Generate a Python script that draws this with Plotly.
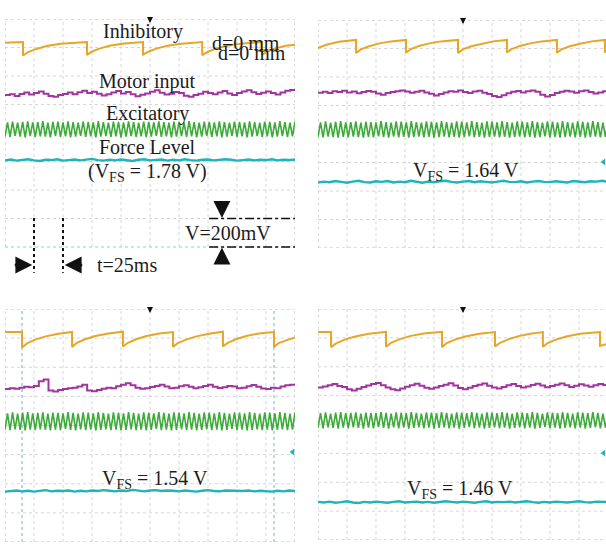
import plotly.graph_objects as go

# ---------------- data (time in ms, amplitude in scope divisions) ----------------
panel_labels = ["d=0 mm", "d=1 mm", "d=2 mm", "d=3 mm"]
vfs_labels = ["(V<sub>FS</sub> = 1.78 V)", "V<sub>FS</sub> = 1.64 V", "V<sub>FS</sub> = 1.54 V", "V<sub>FS</sub> = 1.46 V"]
trace_names = ["Inhibitory", "Motor input", "Excitatory", "Force Level"]

# Inhibitory (orange) sawtooth break-points
inh_t_d0 = [0, 15.5, 15.5, 20, 27, 36, 48, 60, 70.7, 70.7, 75, 82, 91, 103, 114, 119, 119, 124, 131, 140, 152, 163,
            170, 170, 175, 182, 191, 203, 214, 221.6, 221.6, 226, 233, 242, 250]
inh_v_d0 = [7.17, 7.19, 6.72, 6.84, 6.95, 7.05, 7.13, 7.17, 7.19, 6.74, 6.86, 6.97, 7.07, 7.14, 7.18, 7.19, 6.75, 6.86,
            6.97, 7.06, 7.13, 7.17, 7.19, 6.73, 6.85, 6.96, 7.06, 7.13, 7.17, 7.19, 6.74, 6.86, 6.97, 7.06, 7.10]
inh_t_d1 = [0, 8, 18, 32.8, 32.8, 37, 44, 53, 63, 75.9, 75.9, 80, 87, 96, 106, 120.7, 120.7, 125, 132, 141, 151, 162.9,
            162.9, 167, 174, 183, 193, 206, 206, 210, 217, 226, 236, 247.4, 247.4, 248.3]
inh_v_d1 = [7.02, 7.14, 7.24, 7.30, 6.84, 6.97, 7.08, 7.18, 7.25, 7.30, 6.85, 6.98, 7.09, 7.18, 7.25, 7.30, 6.84, 6.97,
            7.08, 7.17, 7.25, 7.30, 6.86, 6.98, 7.09, 7.18, 7.25, 7.30, 6.85, 6.97, 7.08, 7.17, 7.25, 7.30, 6.88, 6.90]
inh_t_d2 = [0, 14.7, 14.7, 19, 26, 35, 46, 57.8, 57.8, 62, 69, 78, 89, 101.7, 101.7, 106, 113, 122, 133, 144.8, 144.8,
            149, 156, 165, 176, 187.9, 187.9, 192, 199, 208, 219, 231.9, 231.9, 236, 243, 250]
inh_v_d2 = [7.21, 7.21, 6.68, 6.82, 6.95, 7.06, 7.15, 7.21, 6.70, 6.84, 6.96, 7.07, 7.16, 7.22, 6.71, 6.84, 6.96, 7.07,
            7.16, 7.21, 6.70, 6.83, 6.95, 7.06, 7.15, 7.22, 6.71, 6.84, 6.96, 7.07, 7.16, 7.21, 6.70, 6.83, 6.93, 7.02]
inh_t_d3 = [0, 11.2, 11.2, 16, 23, 32, 44, 58.6, 58.6, 63, 70, 79, 91, 106.9, 106.9, 111, 118, 127, 139, 152.6, 152.6,
            157, 164, 173, 183, 193.9, 193.9, 198, 205, 214, 226, 243.1, 243.1, 248.3]
inh_v_d3 = [7.20, 7.20, 6.68, 6.82, 6.94, 7.05, 7.14, 7.21, 6.69, 6.83, 6.95, 7.06, 7.15, 7.21, 6.68, 6.82, 6.94, 7.05,
            7.14, 7.20, 6.70, 6.83, 6.95, 7.06, 7.14, 7.20, 6.69, 6.82, 6.94, 7.05, 7.14, 7.20, 6.72, 6.78]

# Motor input (purple), evenly sampled across the 250 ms screen
motor_d0 = [5.33, 5.36, 5.30, 5.37, 5.42, 5.35, 5.40, 5.46, 5.38, 5.30, 5.27, 5.33, 5.37, 5.42, 5.36, 5.43, 5.48, 5.40,
            5.45, 5.38, 5.32, 5.36, 5.42, 5.47, 5.39, 5.44, 5.36, 5.29, 5.34, 5.39, 5.45, 5.50, 5.41, 5.35, 5.38, 5.44,
            5.40, 5.31, 5.27, 5.33, 5.38, 5.45, 5.40, 5.36, 5.42, 5.47, 5.39, 5.33, 5.40, 5.46, 5.50, 5.43, 5.37, 5.41,
            5.46, 5.40, 5.35, 5.42, 5.48, 5.51, 5.49]
motor_d1 = [5.45, 5.48, 5.44, 5.50, 5.47, 5.52, 5.46, 5.49, 5.43, 5.47, 5.51, 5.48, 5.42, 5.38, 5.44, 5.47, 5.50, 5.53,
            5.49, 5.45, 5.48, 5.52, 5.46, 5.41, 5.35, 5.40, 5.46, 5.50, 5.48, 5.53, 5.47, 5.44, 5.49, 5.52, 5.45, 5.40,
            5.33, 5.30, 5.36, 5.43, 5.48, 5.51, 5.46, 5.50, 5.53, 5.48, 5.38, 5.32, 5.37, 5.44, 5.48, 5.52, 5.49, 5.45,
            5.50, 5.53, 5.47, 5.42, 5.46, 5.50, 5.48]
motor_d2 = [5.25, 5.28, 5.26, 5.30, 5.33, 5.31, 5.36, 5.52, 5.58, 5.20, 5.17, 5.22, 5.25, 5.28, 5.30, 5.34, 5.40, 5.20,
            5.18, 5.22, 5.26, 5.30, 5.28, 5.35, 5.40, 5.45, 5.38, 5.30, 5.26, 5.28, 5.32, 5.36, 5.40, 5.34, 5.28, 5.30,
            5.35, 5.38, 5.33, 5.28, 5.31, 5.36, 5.40, 5.33, 5.29, 5.31, 5.36, 5.34, 5.28, 5.30, 5.35, 5.39, 5.33, 5.27,
            5.25, 5.30, 5.28, 5.34, 5.38, 5.40, 5.42]
motor_d3 = [5.28, 5.32, 5.36, 5.40, 5.33, 5.30, 5.22, 5.18, 5.24, 5.30, 5.35, 5.40, 5.44, 5.36, 5.28, 5.22, 5.19, 5.25,
            5.31, 5.36, 5.41, 5.34, 5.27, 5.24, 5.28, 5.33, 5.38, 5.43, 5.35, 5.26, 5.22, 5.27, 5.33, 5.38, 5.42, 5.34,
            5.28, 5.25, 5.30, 5.36, 5.40, 5.33, 5.28, 5.32, 5.37, 5.41, 5.35, 5.29, 5.33, 5.38, 5.42, 5.36, 5.30, 5.34,
            5.39, 5.35, 5.31, 5.36, 5.40, 5.37, 5.33]

# Excitatory (green) zig-zag: alternating trough / peak samples
exc_d0 = [3.88, 4.37, 3.86, 4.40, 3.90, 4.36, 3.87, 4.39, 3.85, 4.41, 3.89, 4.37, 3.86, 4.38, 3.88, 4.42, 3.87, 4.36, 3.85, 4.39,
          3.89, 4.40, 3.86, 4.37, 3.88, 4.41, 3.85, 4.38, 3.87, 4.36, 3.90, 4.40, 3.86, 4.39, 3.88, 4.37, 3.85, 4.42, 3.87, 4.38,
          3.89, 4.36, 3.86, 4.40, 3.88, 4.39, 3.85, 4.37, 3.87, 4.41, 3.89, 4.38, 3.86, 4.36, 3.88, 4.40, 3.85, 4.39, 3.87, 4.37,
          3.90, 4.41, 3.86, 4.38, 3.88, 4.36, 3.85, 4.40, 3.87, 4.39, 3.89, 4.37, 3.86, 4.42, 3.88, 4.38, 3.85, 4.36, 3.87, 4.40,
          3.89, 4.39, 3.86, 4.37, 3.88, 4.41, 3.85, 4.38, 3.87, 4.36, 3.90, 4.40, 3.86, 4.39, 3.88, 4.37, 3.85, 4.41, 3.87, 4.38,
          3.89, 4.36, 3.86, 4.40, 3.88, 4.39, 3.85, 4.37, 3.87, 4.42, 3.89, 4.38, 3.86, 4.36, 3.88, 4.40]
exc_d1 = [3.90, 4.41, 3.88, 4.44, 3.91, 4.40, 3.89, 4.43, 3.87, 4.45, 3.90, 4.41, 3.88, 4.42, 3.91, 4.44, 3.89, 4.40, 3.87, 4.43,
          3.90, 4.42, 3.88, 4.41, 3.92, 4.45, 3.89, 4.42, 3.87, 4.40, 3.91, 4.44, 3.88, 4.43, 3.90, 4.41, 3.87, 4.45, 3.89, 4.42,
          3.91, 4.40, 3.88, 4.44, 3.90, 4.43, 3.87, 4.41, 3.89, 4.45, 3.91, 4.42, 3.88, 4.40, 3.90, 4.44, 3.87, 4.43, 3.89, 4.41,
          3.92, 4.45, 3.88, 4.42, 3.90, 4.40, 3.87, 4.44, 3.89, 4.43, 3.91, 4.41, 3.88, 4.45, 3.90, 4.42, 3.87, 4.40, 3.89, 4.44,
          3.91, 4.43, 3.88, 4.41, 3.90, 4.45, 3.87, 4.42, 3.89, 4.40, 3.92, 4.44, 3.88, 4.43, 3.90, 4.41, 3.87, 4.45, 3.89, 4.42,
          3.91, 4.40, 3.88, 4.44, 3.90, 4.43, 3.87, 4.41, 3.89, 4.45, 3.91, 4.42, 3.88, 4.40, 3.90, 4.44]
exc_d2 = [3.86, 4.42, 3.84, 4.45, 3.87, 4.41, 3.85, 4.44, 3.83, 4.46, 3.86, 4.42, 3.84, 4.43, 3.87, 4.45, 3.85, 4.41, 3.83, 4.44,
          3.86, 4.43, 3.84, 4.42, 3.88, 4.46, 3.85, 4.43, 3.83, 4.41, 3.87, 4.45, 3.84, 4.44, 3.86, 4.42, 3.83, 4.46, 3.85, 4.43,
          3.87, 4.41, 3.84, 4.45, 3.86, 4.44, 3.83, 4.42, 3.85, 4.46, 3.87, 4.43, 3.84, 4.41, 3.86, 4.45, 3.83, 4.44, 3.85, 4.42,
          3.88, 4.46, 3.84, 4.43, 3.86, 4.41, 3.83, 4.45, 3.85, 4.44, 3.87, 4.42, 3.84, 4.46, 3.86, 4.43, 3.83, 4.41, 3.85, 4.45,
          3.87, 4.44, 3.84, 4.42, 3.86, 4.46, 3.83, 4.43, 3.85, 4.41, 3.88, 4.45, 3.84, 4.44, 3.86, 4.42, 3.83, 4.46, 3.85, 4.43,
          3.87, 4.41, 3.84, 4.45, 3.86, 4.44, 3.83, 4.42, 3.85, 4.46, 3.87, 4.43, 3.84, 4.41, 3.86, 4.45]
exc_d3 = [3.89, 4.39, 3.87, 4.42, 3.90, 4.38, 3.88, 4.41, 3.86, 4.43, 3.89, 4.39, 3.87, 4.40, 3.90, 4.42, 3.88, 4.38, 3.86, 4.41,
          3.89, 4.40, 3.87, 4.39, 3.91, 4.43, 3.88, 4.40, 3.86, 4.38, 3.90, 4.42, 3.87, 4.41, 3.89, 4.39, 3.86, 4.43, 3.88, 4.40,
          3.90, 4.38, 3.87, 4.42, 3.89, 4.41, 3.86, 4.39, 3.88, 4.43, 3.90, 4.40, 3.87, 4.38, 3.89, 4.42, 3.86, 4.41, 3.88, 4.39,
          3.91, 4.43, 3.87, 4.40, 3.89, 4.38, 3.86, 4.42, 3.88, 4.41, 3.90, 4.39, 3.87, 4.43, 3.89, 4.40, 3.86, 4.38, 3.88, 4.42,
          3.90, 4.41, 3.87, 4.39, 3.89, 4.43, 3.86, 4.40, 3.88, 4.38, 3.91, 4.42, 3.87, 4.41, 3.89, 4.39, 3.86, 4.43, 3.88, 4.40,
          3.90, 4.38, 3.87, 4.42, 3.89, 4.41, 3.86, 4.39, 3.88, 4.43, 3.90, 4.40, 3.87, 4.38, 3.89, 4.42]

# Force level (cyan)
force_d0 = [3.04, 3.07, 3.03, 3.06, 3.08, 3.04, 3.02, 3.06, 3.05, 3.08, 3.03, 3.05, 3.07, 3.04, 3.06, 3.09, 3.05, 3.03,
            3.06, 3.04, 3.07, 3.05, 3.02, 3.06, 3.08, 3.04, 3.05, 3.07, 3.03, 3.06, 3.04, 3.08, 3.05, 3.03, 3.06, 3.07,
            3.04, 3.05, 3.08, 3.06, 3.03, 3.05, 3.07, 3.04, 3.06, 3.05, 3.08, 3.04, 3.06, 3.05, 3.07]
force_d1 = [2.30, 2.33, 2.31, 2.35, 2.32, 2.29, 2.33, 2.36, 2.31, 2.30, 2.34, 2.32, 2.35, 2.30, 2.33, 2.31, 2.36, 2.32,
            2.29, 2.33, 2.31, 2.34, 2.36, 2.32, 2.30, 2.33, 2.35, 2.31, 2.34, 2.32, 2.30, 2.33, 2.36, 2.32, 2.31, 2.34,
            2.30, 2.33, 2.35, 2.32, 2.31, 2.34, 2.33, 2.30, 2.35, 2.32, 2.31, 2.34, 2.33, 2.36, 2.32]
force_d2 = [1.73, 1.75, 1.77, 1.74, 1.76, 1.73, 1.75, 1.78, 1.74, 1.76, 1.75, 1.77, 1.73, 1.76, 1.74, 1.77, 1.75, 1.78,
            1.76, 1.74, 1.77, 1.75, 1.79, 1.76, 1.74, 1.77, 1.78, 1.75, 1.77, 1.76, 1.74, 1.77, 1.75, 1.73, 1.76, 1.78,
            1.75, 1.74, 1.77, 1.76, 1.74, 1.75, 1.77, 1.74, 1.76, 1.75, 1.73, 1.76, 1.74, 1.77, 1.75]
force_d3 = [1.32, 1.30, 1.33, 1.29, 1.31, 1.34, 1.30, 1.28, 1.32, 1.30, 1.33, 1.31, 1.29, 1.32, 1.34, 1.30, 1.31, 1.33,
            1.30, 1.32, 1.29, 1.31, 1.34, 1.32, 1.30, 1.33, 1.31, 1.29, 1.32, 1.34, 1.30, 1.32, 1.31, 1.33, 1.30, 1.32,
            1.34, 1.31, 1.29, 1.32, 1.30, 1.33, 1.31, 1.30, 1.32, 1.34, 1.31, 1.30, 1.33, 1.32, 1.31]

# channel offset markers (level in div)
marker_level = [None, 3.02, 3.09, 3.01]
# cursor lines on the d=2 mm screen (ms)
cursor_d2 = [14.7, 231.9]

SCREEN_MS = 250
DIV_MS = 25

# ---------------- layout helpers ----------------
W, H = 606, 545
ORANGE = "#E8A526"
PURPLE = "#A1359F"
GREEN = "#3DAA3A"
CYAN = "#1FB3BC"
TXT = "#1c1c1c"
FONT = "Liberation Serif, Times New Roman, serif"


def dom_x(a, b):
    return [a / W, min(b / W, 1.0)]


def dom_y(top, bottom):
    return [max(1 - bottom / H, 0.0), 1 - top / H]


panels = [
    dict(xd=dom_x(5, 295), yd=dom_y(19, 280), xr=[0, 250], yr=[-1.158, 8]),
    dict(xd=dom_x(318, 606), yd=dom_y(20, 248), xr=[0, 248.3], yr=[0, 8]),
    dict(xd=dom_x(5, 295), yd=dom_y(309, 542), xr=[0, 250], yr=[0, 8]),
    dict(xd=dom_x(318, 606), yd=dom_y(309, 540), xr=[0, 248.3], yr=[0, 8]),
]

inh_t = [inh_t_d0, inh_t_d1, inh_t_d2, inh_t_d3]
inh_v = [inh_v_d0, inh_v_d1, inh_v_d2, inh_v_d3]
motor = [motor_d0, motor_d1, motor_d2, motor_d3]
exc = [exc_d0, exc_d1, exc_d2, exc_d3]
force = [force_d0, force_d1, force_d2, force_d3]


def even_t(vals):
    n = len(vals)
    return [i * SCREEN_MS / (n - 1) for i in range(n)]


fig = go.Figure()
shapes = []
annotations = []

for i, p in enumerate(panels):
    sfx = "" if i == 0 else str(i + 1)
    xa, ya = "x" + sfx, "y" + sfx
    fig.update_layout(**{
        "xaxis" + sfx: dict(domain=p["xd"], range=p["xr"], visible=False, fixedrange=True, anchor=ya),
        "yaxis" + sfx: dict(domain=p["yd"], range=p["yr"], visible=False, fixedrange=True, anchor=xa),
    })
    # oscilloscope graticule
    for k in range(11):
        edge = k in (0, 10)
        shapes.append(dict(type="line", xref=xa, yref=ya, x0=k * DIV_MS, x1=k * DIV_MS, y0=0, y1=8, layer="below",
                           line=dict(color="#bdbdbd" if edge else "#d6d6d6", width=1, dash="dot")))
    for j in range(9):
        edge = j in (0, 8)
        col = "#bdbdbd" if edge else "#d6d6d6"
        if i == 0 and j == 0:
            col = "#8fd0d4"
        shapes.append(dict(type="line", xref=xa, yref=ya, x0=0, x1=SCREEN_MS, y0=j, y1=j, layer="below",
                           line=dict(color=col, width=1, dash="dot")))
    if i == 2:
        for c in cursor_d2:
            shapes.append(dict(type="line", xref=xa, yref=ya, x0=c, x1=c, y0=0, y1=8, layer="below",
                               line=dict(color="#9ccfd4", width=1.5, dash="dot")))

    # traces
    fig.add_trace(go.Scatter(x=inh_t[i], y=inh_v[i], mode="lines", xaxis=xa, yaxis=ya,
                             line=dict(color=ORANGE, width=2), name=trace_names[0], showlegend=False))
    fig.add_trace(go.Scatter(x=even_t(motor[i]), y=motor[i], mode="lines", xaxis=xa, yaxis=ya,
                             line=dict(color=PURPLE, width=2, shape="hv"), name=trace_names[1], showlegend=False))
    fig.add_trace(go.Scatter(x=even_t(exc[i]), y=exc[i], mode="lines", xaxis=xa, yaxis=ya,
                             line=dict(color=GREEN, width=1.6), name=trace_names[2], showlegend=False))
    fig.add_trace(go.Scatter(x=even_t(force[i]), y=force[i], mode="lines", xaxis=xa, yaxis=ya,
                             line=dict(color=CYAN, width=2.4), name=trace_names[3], showlegend=False))
    if marker_level[i] is not None:
        fig.add_trace(go.Scatter(x=[p["xr"][1] - 2], y=[marker_level[i]], mode="markers", xaxis=xa, yaxis=ya,
                                 marker=dict(symbol="triangle-left", size=6, color=CYAN), cliponaxis=False,
                                 showlegend=False, hoverinfo="skip"))

    # trigger marker at screen centre
    annotations.append(dict(xref=xa, yref=ya, x=SCREEN_MS / 2, y=7.86, text="", showarrow=True,
                            ax=0, ay=-7, arrowhead=2, arrowsize=1, arrowwidth=1.2, arrowcolor="#111"))

# text labels
tf = dict(family=FONT, size=20, color=TXT)
annotations += [
    dict(xref="x", yref="y", x=119, y=7.55, text=trace_names[0], showarrow=False, font=tf),
    dict(xref="x", yref="y", x=208, y=7.16, text=panel_labels[0], showarrow=False, font=tf),
    dict(xref="x", yref="y", x=213, y=6.80, text=panel_labels[0], showarrow=False, font=tf),
    dict(xref="x", yref="y", x=123, y=5.79, text=trace_names[1], showarrow=False, font=tf),
    dict(xref="x", yref="y", x=123, y=4.70, text=trace_names[2], showarrow=False, font=tf),
    dict(xref="x", yref="y", x=123, y=3.51, text=trace_names[3], showarrow=False, font=tf),
    dict(xref="x", yref="y", x=123, y=2.60, text=vfs_labels[0], showarrow=False, font=tf),
    dict(xref="x", yref="y", x=192, y=0.49, text="V=200mV", showarrow=False, font=tf),
    dict(xref="x", yref="y", x=105, y=-0.63, text="t=25ms", showarrow=False, font=tf),
    dict(xref="x2", yref="y2", x=217, y=8.30, text=panel_labels[1], showarrow=False, font=tf),
    dict(xref="x2", yref="y2", x=127.6, y=2.68, text=vfs_labels[1], showarrow=False, font=tf),
    dict(xref="x3", yref="y3", x=217, y=8.25, text=panel_labels[2], showarrow=False, font=tf),
    dict(xref="x3", yref="y3", x=129, y=2.14, text=vfs_labels[2], showarrow=False, font=tf),
    dict(xref="x4", yref="y4", x=214, y=8.32, text=panel_labels[3], showarrow=False, font=tf),
    dict(xref="x4", yref="y4", x=122.4, y=1.74, text=vfs_labels[3], showarrow=False, font=tf),
]

# scale markers on the d=0 mm screen: one division in time and in voltage
for tx in (DIV_MS, 2 * DIV_MS):
    shapes.append(dict(type="line", xref="x", yref="y", x0=tx, x1=tx, y0=1.02, y1=-0.9,
                       line=dict(color="#111", width=2, dash="dot")))
for vy in (1, 0):
    shapes.append(dict(type="line", xref="x", yref="y", x0=176, x1=250, y0=vy, y1=vy,
                       line=dict(color="#111", width=1.5, dash="dashdot")))
arrow = dict(showarrow=True, text="", arrowhead=2, arrowsize=1.3, arrowwidth=2.6, arrowcolor="#111",
             xref="x", yref="y")
annotations += [
    dict(arrow, x=23.5, y=-0.63, ax=-19, ay=0),
    dict(arrow, x=51.5, y=-0.63, ax=19, ay=0),
    dict(arrow, x=187, y=1.02, ax=0, ay=-16),
    dict(arrow, x=187, y=-0.02, ax=0, ay=16),
]

fig.update_layout(width=W, height=H, margin=dict(l=0, r=0, t=0, b=0), paper_bgcolor="white",
                  plot_bgcolor="rgba(0,0,0,0)", shapes=shapes, annotations=annotations, showlegend=False)

fig.write_html("out.html", config={"displayModeBar": False},
               post_script="document.body.style.margin='0';document.body.style.overflow='hidden';")
